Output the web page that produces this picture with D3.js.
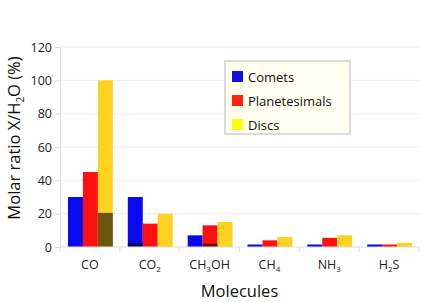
<!DOCTYPE html>
<html>
<head>
<meta charset="utf-8">
<script src="https://cdn.jsdelivr.net/npm/d3@7"></script>
<style>
  body { margin: 0; background: #fff; }
  text { font-family: "Open Sans", "DejaVu Sans", sans-serif; }
</style>
</head>
<body>
<div id="chart"></div>
<script>
// molecules, each label split into [text, subscript] pieces
var categories = ["CO", "CO2", "CH3OH", "CH4", "NH3", "H2S"];
var catLabels = [
  [["CO", 0]],
  [["CO", 0], ["2", 1]],
  [["CH", 0], ["3", 1], ["OH", 0]],
  [["CH", 0], ["4", 1]],
  [["NH", 0], ["3", 1]],
  [["H", 0], ["2", 1], ["S", 0]]
];
var seriesNames = ["Comets", "Planetesimals", "Discs"];
var comets        = [30, 30, 7, 1.5, 1.5, 1.5];
var planetesimals = [45, 14, 13, 4, 5.5, 1.5];
var discs         = [100, 20, 15, 6, 7, 2.5];
// darker part at the bottom of some bars
var darkSeries = ["Discs", "Comets", "Planetesimals"];
var darkCats   = ["CO", "CO2", "CH3OH"];
var darkValues = [20.5, 2.5, 2];
var yTicks = [0, 20, 40, 60, 80, 100, 120];

var barColors = {Comets: "#0a0af0", Planetesimals: "#ff1010", Discs: "#ffd21f"};
var legendColors = {Comets: "#1010e0", Planetesimals: "#ff2010", Discs: "#ffff00"};

var width = 436, height = 302;
var margin = {top: 47, right: 17, bottom: 55, left: 60};
var w = width - margin.left - margin.right;
var h = height - margin.top - margin.bottom;

var svg = d3.select("#chart").append("svg")
    .attr("width", width)
    .attr("height", height);
var g = svg.append("g")
    .attr("transform", "translate(" + margin.left + "," + margin.top + ")");

var values = {Comets: comets, Planetesimals: planetesimals, Discs: discs};

var x = d3.scaleBand().domain(categories).range([0, w]).paddingInner(0).paddingOuter(0);
var xs = d3.scaleBand().domain(seriesNames).range([8, x.bandwidth() - 7]);
var y = d3.scaleLinear().domain([0, 120]).range([h, 0]);

// gridlines
g.append("g").selectAll("line").data(yTicks.slice(1)).enter().append("line")
  .attr("x1", 0).attr("x2", w)
  .attr("y1", function(d) { return y(d); }).attr("y2", function(d) { return y(d); })
  .attr("stroke", "#ececec");

// y axis
var yAxis = d3.axisLeft(y).tickValues(yTicks).tickSize(5).tickPadding(3);
var ya = g.append("g").call(yAxis);
ya.select(".domain").attr("stroke", "#dcdcdc");
ya.selectAll(".tick line").attr("stroke", "#dcdcdc");
ya.selectAll(".tick text").attr("fill", "#222").style("font-size", "12.5px");

// bars
categories.forEach(function(c, i) {
  var grp = g.append("g").attr("transform", "translate(" + x(c) + ",0)");
  grp.selectAll("rect").data(seriesNames).enter().append("rect")
    .attr("x", function(s) { return xs(s); })
    .attr("width", xs.bandwidth())
    .attr("y", function(s) { return y(values[s][i]); })
    .attr("height", function(s) { return h - y(values[s][i]); })
    .attr("fill", function(s) { return barColors[s]; });
});

// dark bottom parts
g.append("g").selectAll("rect").data(darkValues).enter().append("rect")
  .attr("x", function(d, i) { return x(darkCats[i]) + xs(darkSeries[i]); })
  .attr("width", xs.bandwidth())
  .attr("y", function(d) { return y(d); })
  .attr("height", function(d) { return h - y(d); })
  .attr("fill", "#000")
  .attr("fill-opacity", 0.58);

// x axis
var xa = g.append("g").attr("transform", "translate(0," + h + ")");
xa.append("line").attr("x1", 0).attr("x2", w).attr("stroke", "#dcdcdc");
xa.selectAll(".tk").data(d3.range(categories.length + 1)).enter().append("line")
  .attr("x1", function(d) { return d * x.step(); }).attr("x2", function(d) { return d * x.step(); })
  .attr("y1", 0).attr("y2", 5).attr("stroke", "#dcdcdc");

catLabels.forEach(function(parts, i) {
  var t = xa.append("text")
    .attr("x", x(categories[i]) + x.bandwidth() / 2)
    .attr("y", 22)
    .attr("text-anchor", "middle")
    .attr("fill", "#222")
    .style("font-size", "12.5px");
  parts.forEach(function(p) {
    var sp = t.append("tspan").text(p[0]);
    if (p[1]) {
      sp.style("font-size", "8px").attr("dy", 3);
    } else if (t.selectAll("tspan").size() > 1) {
      sp.attr("dy", -3);
    }
  });
});

// axis titles
svg.append("text")
  .attr("x", margin.left + w / 2)
  .attr("y", 297)
  .attr("text-anchor", "middle")
  .style("font-size", "16.5px")
  .attr("fill", "#111")
  .text("Molecules");

var yt = svg.append("text")
  .attr("transform", "translate(20," + 138 + ") rotate(-90)")
  .attr("text-anchor", "middle")
  .style("font-size", "16.5px")
  .attr("fill", "#111");
yt.append("tspan").text("Molar ratio X/H");
yt.append("tspan").text("2").style("font-size", "10px").attr("dy", 4);
yt.append("tspan").text("O (%)").attr("dy", -4);

// legend
var lg = svg.append("g").attr("transform", "translate(225,61)");
lg.append("rect")
  .attr("width", 125).attr("height", 73)
  .attr("fill", "#fffff0")
  .attr("stroke", "#dadada")
  .attr("stroke-width", 2);
var items = lg.selectAll(".item").data(seriesNames).enter().append("g")
  .attr("transform", function(d, i) { return "translate(7," + (16 + i * 24) + ")"; });
items.append("rect")
  .attr("x", 0).attr("y", -6).attr("width", 11).attr("height", 11)
  .attr("fill", function(d) { return legendColors[d]; });
items.append("text")
  .attr("x", 16).attr("y", 5)
  .style("font-size", "13px")
  .attr("fill", "#111")
  .text(function(d) { return d; });
</script>
</body>
</html>
